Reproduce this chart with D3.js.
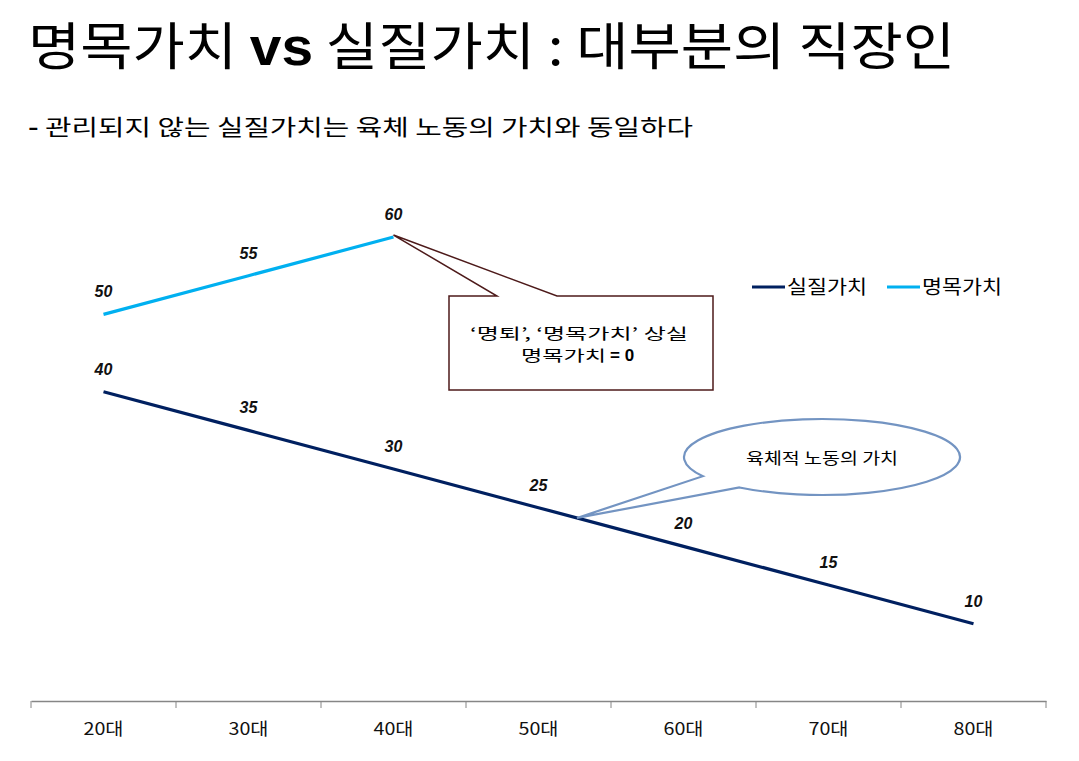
<!DOCTYPE html>
<html>
<head>
<meta charset="utf-8">
<script src="https://cdn.jsdelivr.net/npm/d3@7"></script>
<style>
  body { margin: 0; background: #fff; }
  svg { display: block; font-family: "Noto Sans CJK KR", "Noto Sans", sans-serif; }
</style>
</head>
<body>
<svg id="chart" width="1079" height="761"></svg>
<script>
var categories = ["20대", "30대", "40대", "50대", "60대", "70대", "80대"];
var realValues = [40, 35, 30, 25, 20, 15, 10];
var nominalValues = [50, 55, 60];
var seriesNames = ["실질가치", "명목가치"];
var seriesColors = ["#002060", "#00b0f0"];

var svg = d3.select("#chart");

// title
svg.append("text")
    .attr("x", 28).attr("y", 65)
    .attr("font-size", 51)
    .attr("fill", "#000")
    .attr("textLength", 927)
    .attr("lengthAdjust", "spacingAndGlyphs")
    .html('명목가치 <tspan font-weight="bold" font-family="Liberation Sans, Arial, sans-serif">vs</tspan> 실질가치 : 대부분의 직장인');

svg.append("text")
    .attr("x", 28).attr("y", 135)
    .attr("font-size", 22)
    .attr("fill", "#000")
    .attr("textLength", 665)
    .attr("lengthAdjust", "spacingAndGlyphs")
    .html('<tspan font-weight="bold">-</tspan> 관리되지 않는 실질가치는 육체 노동의 가치와 동일하다');

// scales
var x = d3.scaleBand().domain(categories).range([31, 1046]);
var y = d3.scaleLinear().domain([0, 70]).range([701, 159.7]);
var cx = function (d, i) { return x(categories[i]) + x.bandwidth() / 2; };

// axis
var axis = d3.axisBottom(x).tickSize(0).tickPadding(22);
var gx = svg.append("g").attr("transform", "translate(0,701)").call(axis);
gx.select(".domain").attr("stroke", "#868686").attr("stroke-width", 1.5);
gx.selectAll("text").attr("fill", "#111")
    .attr("font-family", "Noto Sans CJK KR, sans-serif").attr("font-size", 17)
    .attr("textLength", 40).attr("lengthAdjust", "spacingAndGlyphs");
var bounds = [31].concat(categories.map(function (c) { return x(c) + x.bandwidth(); }));
gx.selectAll("line.sep").data(bounds).enter().append("line")
    .attr("class", "sep")
    .attr("x1", function (d) { return d; }).attr("x2", function (d) { return d; })
    .attr("y1", 0).attr("y2", 7)
    .attr("stroke", "#868686").attr("stroke-width", 1);

// lines
var line = d3.line().x(cx).y(function (d) { return y(d); });
var seriesData = [realValues, nominalValues];
seriesData.forEach(function (vals, s) {
    svg.append("path")
        .datum(vals)
        .attr("d", line)
        .attr("fill", "none")
        .attr("stroke", seriesColors[s])
        .attr("stroke-width", 3.2);
    svg.selectAll("text.lab" + s).data(vals).enter().append("text")
        .attr("class", "lab" + s)
        .attr("x", cx)
        .attr("y", function (d) { return y(d) - 17; })
        .attr("text-anchor", "middle")
        .attr("font-family", "Liberation Sans, Arial, sans-serif")
        .attr("font-style", "italic")
        .attr("font-weight", "bold")
        .attr("font-size", 16)
        .attr("fill", "#111")
        .text(function (d) { return d; });
});

// legend
var legendX = [752, 887];
seriesNames.forEach(function (name, i) {
    var g = svg.append("g").attr("transform", "translate(" + legendX[i] + ",287)");
    g.append("line").attr("x1", 0).attr("x2", 33).attr("y1", 0).attr("y2", 0)
        .attr("stroke", seriesColors[i]).attr("stroke-width", 3.2);
    g.append("text").attr("x", 35).attr("y", 7)
        .attr("font-size", 19).attr("fill", "#000")
        .attr("textLength", 80).attr("lengthAdjust", "spacingAndGlyphs")
        .text(name);
});

// callout 1: box pointing at 40대 명목가치
var tip1x = cx(null, 2), tip1y = y(nominalValues[2]) - 2;
var box = { x0: 449, y0: 296, x1: 713, y1: 390 };
svg.append("path")
    .attr("d", "M" + box.x0 + "," + box.y0 + "H497L" + tip1x + "," + tip1y + "L557," + box.y0 +
        "H" + box.x1 + "V" + box.y1 + "H" + box.x0 + "Z")
    .attr("fill", "#fff").attr("stroke", "#4d1a1a").attr("stroke-width", 1.5);
svg.append("text").attr("x", 470).attr("y", 339)
    .attr("font-size", 15).attr("fill", "#000")
    .attr("textLength", 218).attr("lengthAdjust", "spacingAndGlyphs")
    .text("‘명퇴’, ‘명목가치’ 상실");
svg.append("text").attr("x", 521).attr("y", 361)
    .attr("font-size", 15).attr("fill", "#000")
    .attr("textLength", 85).attr("lengthAdjust", "spacingAndGlyphs")
    .text("명목가치");
svg.append("text").attr("x", 610).attr("y", 361)
    .attr("font-size", 17).attr("font-weight", "bold").attr("fill", "#000")
    .attr("font-family", "Liberation Sans, Arial, sans-serif")
    .text("= 0");

// callout 2: ellipse bubble pointing at real value line
var tip2x = 577;
var tip2y = y(realValues[3]) + (y(realValues[4]) - y(realValues[3])) * (tip2x - cx(null, 3)) / x.bandwidth();
var ecx = 822, ecy = 457, rx = 138, ry = 38;
var t1 = Math.atan2((476 - ecy) / ry, (704 - ecx) / rx);
var t2 = Math.atan2((488 - ecy) / ry, (738 - ecx) / rx);
var p1 = [ecx + rx * Math.cos(t1), ecy + ry * Math.sin(t1)];
var p2 = [ecx + rx * Math.cos(t2), ecy + ry * Math.sin(t2)];
svg.append("path")
    .attr("d", "M" + p2[0] + "," + p2[1] +
        " A" + rx + "," + ry + " 0 1,0 " + p1[0] + "," + p1[1] +
        " L" + tip2x + "," + tip2y + " Z")
    .attr("fill", "#fff").attr("stroke", "#7394c2").attr("stroke-width", 2.2);
svg.append("text").attr("x", 746).attr("y", 464)
    .attr("font-size", 16).attr("fill", "#000")
    .attr("textLength", 152).attr("lengthAdjust", "spacingAndGlyphs")
    .text("육체적 노동의 가치");
</script>
</body>
</html>
